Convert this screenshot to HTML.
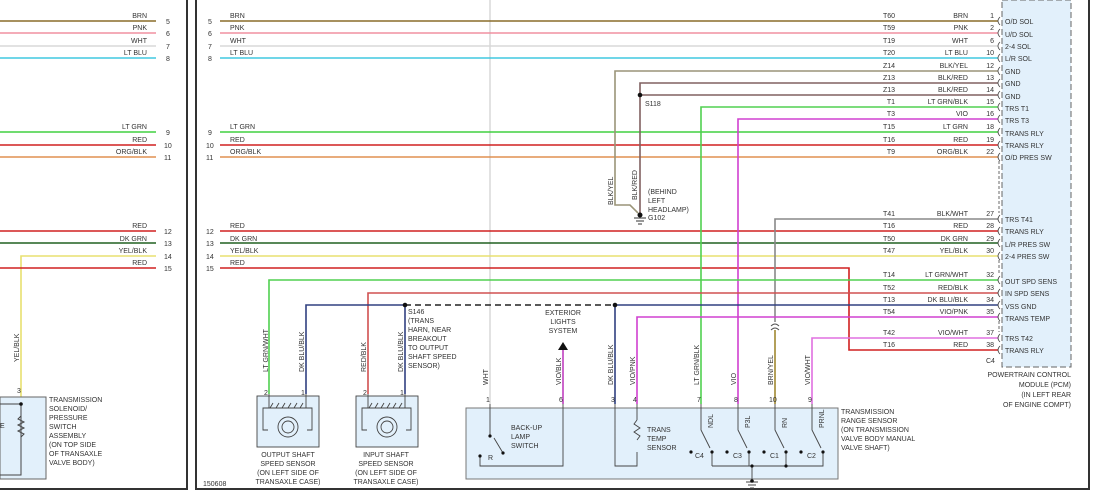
<!DOCTYPE html>
<html><head><meta charset="utf-8"><style>
body{margin:0;background:#fff;}
svg{display:block;font-family:"Liberation Sans",sans-serif;}
text{font-size:7px;fill:#333;}
.r{text-anchor:end;}
.m{text-anchor:middle;}
</style></head><body>
<svg width="1093" height="494" viewBox="0 0 1093 494" xmlns="http://www.w3.org/2000/svg">
<rect width="1093" height="494" fill="#fff"/>
<!-- frames -->
<path d="M187 0V489H0" stroke="#333" stroke-width="2" fill="none"/>
<path d="M196 0V489H1089V0" stroke="#333" stroke-width="2" fill="none"/>
<!-- PCM box -->
<rect x="1002" y="0" width="69" height="367" fill="#e2f0fb" stroke="#666" stroke-width="1" stroke-dasharray="6,3"/>
<!-- WHT vertical -->
<line x1="490" y1="0" x2="490" y2="404" stroke="#d8d8d8" stroke-width="1.5"/>

<g fill="none" stroke-width="1.6">
<!-- left panel -->
<line x1="0" y1="21" x2="156" y2="21" stroke="#8a6d2a"/>
<line x1="0" y1="33" x2="156" y2="33" stroke="#f090a0"/>
<line x1="0" y1="46" x2="156" y2="46" stroke="#d8d8d8"/>
<line x1="0" y1="58" x2="156" y2="58" stroke="#40c8e0"/>
<line x1="0" y1="132" x2="156" y2="132" stroke="#40d040"/>
<line x1="0" y1="145" x2="156" y2="145" stroke="#d02020"/>
<line x1="0" y1="157" x2="156" y2="157" stroke="#e09050"/>
<line x1="0" y1="231" x2="156" y2="231" stroke="#d02020"/>
<line x1="0" y1="243" x2="156" y2="243" stroke="#206020"/>
<path d="M156 256H21V397" stroke="#e8e070"/>
<line x1="0" y1="268" x2="156" y2="268" stroke="#d02020"/>
<!-- right panel through wires -->
<line x1="220" y1="21" x2="998" y2="21" stroke="#8a6d2a"/>
<line x1="220" y1="33" x2="998" y2="33" stroke="#f090a0"/>
<line x1="220" y1="46" x2="998" y2="46" stroke="#d8d8d8"/>
<line x1="220" y1="58" x2="998" y2="58" stroke="#40c8e0"/>
<line x1="220" y1="132" x2="998" y2="132" stroke="#40d040"/>
<line x1="220" y1="145" x2="998" y2="145" stroke="#d02020"/>
<line x1="220" y1="157" x2="998" y2="157" stroke="#e09050"/>
<line x1="220" y1="231" x2="998" y2="231" stroke="#d02020"/>
<line x1="220" y1="243" x2="998" y2="243" stroke="#206020"/>
<line x1="220" y1="256" x2="998" y2="256" stroke="#e8e070"/>
<path d="M220 268H849V350H998" stroke="#d02020"/>
<!-- grounds -->
<path d="M998 71H615V205H630L638 213" stroke="#9a9478"/>
<path d="M998 83H640V213" stroke="#806060"/>
<line x1="640" y1="95" x2="998" y2="95" stroke="#806060"/>
<!-- TRS wires -->
<path d="M998 107H701V404" stroke="#50d050"/>
<path d="M998 119H738V404" stroke="#d040d0"/>
<path d="M998 219H775V322" stroke="#888"/>
<path d="M775 330V404" stroke="#a08830"/>
<path d="M998 280H269V394" stroke="#50d050"/>
<path d="M998 293H368V394" stroke="#d05050"/>
<path d="M998 305H615V404" stroke="#304080"/>
<path d="M405 305H306V394" stroke="#304080"/>
<path d="M405 305V394" stroke="#304080"/>
<path d="M998 317H637V404" stroke="#d040d0"/>
<path d="M998 338H812V404" stroke="#e070e0"/>
<path d="M563 350V404" stroke="#c040c0"/>
</g>
<path d="M405 305H615" stroke="#222" stroke-width="1.5" stroke-dasharray="6,4"/>
<circle cx="640" cy="95" r="2.3" fill="#111"/>
<circle cx="405" cy="305" r="2.3" fill="#111"/>
<circle cx="615" cy="305" r="2.3" fill="#111"/>
<path d="M558 350L563 342L568 350Z" fill="#111"/>
<path d="M771 326Q775 322 779 326M771 330Q775 326 779 330" stroke="#555" fill="none"/>
<!-- G102 -->
<circle cx="640" cy="215" r="2.5" fill="#111"/>
<path d="M634 218H646M636 221H644M638 224H642" stroke="#333"/>
<!-- connector marks at PCM -->
<g stroke="#444" fill="none" stroke-width="0.8">
<path d="M1000 17Q996 21 1000 25M1000 29Q996 33 1000 37M1000 42Q996 46 1000 50M1000 54Q996 58 1000 62M1000 67Q996 71 1000 75M1000 79Q996 83 1000 87M1000 91Q996 95 1000 99M1000 103Q996 107 1000 111M1000 115Q996 119 1000 123M1000 128Q996 132 1000 136M1000 141Q996 145 1000 149M1000 153Q996 157 1000 161M1000 215Q996 219 1000 223M1000 227Q996 231 1000 235M1000 239Q996 243 1000 247M1000 252Q996 256 1000 260M1000 276Q996 280 1000 284M1000 289Q996 293 1000 297M1000 301Q996 305 1000 309M1000 313Q996 317 1000 321M1000 334Q996 338 1000 342M1000 346Q996 350 1000 354"/>
<path d="M999 161V213M999 260V274M999 321V332" stroke-dasharray="3,2"/>
</g>

<!-- left panel labels -->
<text x="147" y="18" class="r">BRN</text><text x="166" y="24">5</text>
<text x="147" y="30" class="r">PNK</text><text x="166" y="36">6</text>
<text x="147" y="43" class="r">WHT</text><text x="166" y="49">7</text>
<text x="147" y="55" class="r">LT BLU</text><text x="166" y="61">8</text>
<text x="147" y="129" class="r">LT GRN</text><text x="166" y="135">9</text>
<text x="147" y="142" class="r">RED</text><text x="164" y="148">10</text>
<text x="147" y="154" class="r">ORG/BLK</text><text x="164" y="160">11</text>
<text x="147" y="228" class="r">RED</text><text x="164" y="234">12</text>
<text x="147" y="241" class="r">DK GRN</text><text x="164" y="246">13</text>
<text x="147" y="253" class="r">YEL/BLK</text><text x="164" y="259">14</text>
<text x="147" y="265" class="r">RED</text><text x="164" y="271">15</text>
<text transform="translate(19,362) rotate(-90)">YEL/BLK</text>
<text x="17" y="393">3</text>
<rect x="0" y="397" width="46" height="82" fill="#e2f0fb" stroke="#666"/>
<path d="M0 404H21V475H0" stroke="#444" fill="none"/>
<circle cx="21" cy="404" r="1.8" fill="#111"/>
<path d="M21 416l-3 3 6 3-6 3 6 3-6 3 6 3-3 3" stroke="#444" fill="none"/>
<text x="0" y="428">E</text>
<text x="49" y="402">TRANSMISSION</text><text x="49" y="411">SOLENOID/</text><text x="49" y="420">PRESSURE</text><text x="49" y="429">SWITCH</text><text x="49" y="438">ASSEMBLY</text><text x="49" y="447">(ON TOP SIDE</text><text x="49" y="456">OF TRANSAXLE</text><text x="49" y="465">VALVE BODY)</text>

<!-- right panel left labels -->
<text x="208" y="24">5</text><text x="230" y="18">BRN</text>
<text x="208" y="36">6</text><text x="230" y="30">PNK</text>
<text x="208" y="49">7</text><text x="230" y="43">WHT</text>
<text x="208" y="61">8</text><text x="230" y="55">LT BLU</text>
<text x="208" y="135">9</text><text x="230" y="129">LT GRN</text>
<text x="206" y="148">10</text><text x="230" y="142">RED</text>
<text x="206" y="160">11</text><text x="230" y="154">ORG/BLK</text>
<text x="206" y="234">12</text><text x="230" y="228">RED</text>
<text x="206" y="246">13</text><text x="230" y="241">DK GRN</text>
<text x="206" y="259">14</text><text x="230" y="253">YEL/BLK</text>
<text x="206" y="271">15</text><text x="230" y="265">RED</text>

<!-- PCM rows -->
<g>
<text x="895" y="18" class="r">T60</text><text x="968" y="18" class="r">BRN</text><text x="994" y="18" class="r">1</text><text x="1005" y="24">O/D SOL</text>
<text x="895" y="30" class="r">T59</text><text x="968" y="30" class="r">PNK</text><text x="994" y="30" class="r">2</text><text x="1005" y="37">U/D SOL</text>
<text x="895" y="43" class="r">T19</text><text x="968" y="43" class="r">WHT</text><text x="994" y="43" class="r">6</text><text x="1005" y="49">2-4 SOL</text>
<text x="895" y="55" class="r">T20</text><text x="968" y="55" class="r">LT BLU</text><text x="994" y="55" class="r">10</text><text x="1005" y="61">L/R SOL</text>
<text x="895" y="68" class="r">Z14</text><text x="968" y="68" class="r">BLK/YEL</text><text x="994" y="68" class="r">12</text><text x="1005" y="74">GND</text>
<text x="895" y="80" class="r">Z13</text><text x="968" y="80" class="r">BLK/RED</text><text x="994" y="80" class="r">13</text><text x="1005" y="86">GND</text>
<text x="895" y="92" class="r">Z13</text><text x="968" y="92" class="r">BLK/RED</text><text x="994" y="92" class="r">14</text><text x="1005" y="99">GND</text>
<text x="895" y="104" class="r">T1</text><text x="968" y="104" class="r">LT GRN/BLK</text><text x="994" y="104" class="r">15</text><text x="1005" y="111">TRS T1</text>
<text x="895" y="116" class="r">T3</text><text x="968" y="116" class="r">VIO</text><text x="994" y="116" class="r">16</text><text x="1005" y="123">TRS T3</text>
<text x="895" y="129" class="r">T15</text><text x="968" y="129" class="r">LT GRN</text><text x="994" y="129" class="r">18</text><text x="1005" y="136">TRANS RLY</text>
<text x="895" y="142" class="r">T16</text><text x="968" y="142" class="r">RED</text><text x="994" y="142" class="r">19</text><text x="1005" y="148">TRANS RLY</text>
<text x="895" y="154" class="r">T9</text><text x="968" y="154" class="r">ORG/BLK</text><text x="994" y="154" class="r">22</text><text x="1005" y="160">O/D PRES SW</text>
<text x="895" y="216" class="r">T41</text><text x="968" y="216" class="r">BLK/WHT</text><text x="994" y="216" class="r">27</text><text x="1005" y="222">TRS T41</text>
<text x="895" y="228" class="r">T16</text><text x="968" y="228" class="r">RED</text><text x="994" y="228" class="r">28</text><text x="1005" y="234">TRANS RLY</text>
<text x="895" y="241" class="r">T50</text><text x="968" y="241" class="r">DK GRN</text><text x="994" y="241" class="r">29</text><text x="1005" y="247">L/R PRES SW</text>
<text x="895" y="253" class="r">T47</text><text x="968" y="253" class="r">YEL/BLK</text><text x="994" y="253" class="r">30</text><text x="1005" y="259">2-4 PRES SW</text>
<text x="895" y="277" class="r">T14</text><text x="968" y="277" class="r">LT GRN/WHT</text><text x="994" y="277" class="r">32</text><text x="1005" y="284">OUT SPD SENS</text>
<text x="895" y="290" class="r">T52</text><text x="968" y="290" class="r">RED/BLK</text><text x="994" y="290" class="r">33</text><text x="1005" y="296">IN SPD SENS</text>
<text x="895" y="302" class="r">T13</text><text x="968" y="302" class="r">DK BLU/BLK</text><text x="994" y="302" class="r">34</text><text x="1005" y="309">VSS GND</text>
<text x="895" y="314" class="r">T54</text><text x="968" y="314" class="r">VIO/PNK</text><text x="994" y="314" class="r">35</text><text x="1005" y="321">TRANS TEMP</text>
<text x="895" y="335" class="r">T42</text><text x="968" y="335" class="r">VIO/WHT</text><text x="994" y="335" class="r">37</text><text x="1005" y="341">TRS T42</text>
<text x="895" y="347" class="r">T16</text><text x="968" y="347" class="r">RED</text><text x="994" y="347" class="r">38</text><text x="1005" y="353">TRANS RLY</text>
<text x="986" y="363">C4</text>
<text x="1071" y="377" class="r">POWERTRAIN CONTROL</text><text x="1071" y="387" class="r">MODULE (PCM)</text><text x="1071" y="397" class="r">(IN LEFT REAR</text><text x="1071" y="407" class="r">OF ENGINE COMPT)</text>
</g>

<!-- S118 / G102 -->
<text x="645" y="106">S118</text>
<text transform="translate(613,205) rotate(-90)">BLK/YEL</text>
<text transform="translate(637,200) rotate(-90)">BLK/RED</text>
<text x="648" y="194">(BEHIND</text><text x="648" y="203">LEFT</text><text x="648" y="212">HEADLAMP)</text><text x="648" y="220">G102</text>

<!-- S146 -->
<text x="408" y="314">S146</text><text x="408" y="323">(TRANS</text><text x="408" y="332">HARN, NEAR</text><text x="408" y="341">BREAKOUT</text><text x="408" y="350">TO OUTPUT</text><text x="408" y="359">SHAFT SPEED</text><text x="408" y="368">SENSOR)</text>
<text x="563" y="315" class="m">EXTERIOR</text><text x="563" y="324" class="m">LIGHTS</text><text x="563" y="333" class="m">SYSTEM</text>

<!-- vertical wire labels -->
<text transform="translate(268,372) rotate(-90)">LT GRN/WHT</text>
<text transform="translate(304,372) rotate(-90)">DK BLU/BLK</text>
<text transform="translate(366,372) rotate(-90)">RED/BLK</text>
<text transform="translate(403,372) rotate(-90)">DK BLU/BLK</text>
<text transform="translate(488,385) rotate(-90)">WHT</text>
<text transform="translate(561,385) rotate(-90)">VIO/BLK</text>
<text transform="translate(613,385) rotate(-90)">DK BLU/BLK</text>
<text transform="translate(635,385) rotate(-90)">VIO/PNK</text>
<text transform="translate(699,385) rotate(-90)">LT GRN/BLK</text>
<text transform="translate(736,385) rotate(-90)">VIO</text>
<text transform="translate(773,385) rotate(-90)">BRN/YEL</text>
<text transform="translate(810,385) rotate(-90)">VIO/WHT</text>

<!-- speed sensors -->
<g stroke="#444" fill="none" stroke-width="0.9">
<rect x="257" y="396" width="62" height="51" fill="#e2f0fb"/>
<rect x="356" y="396" width="62" height="51" fill="#e2f0fb"/>
<path d="M269 394V408H263V430H268M306 394V408H312V430H307M266 408H309M270 408l3-5M276 408l3-5M282 408l3-5M288 408l3-5M294 408l3-5M300 408l3-5"/>
<circle cx="288" cy="427" r="10"/><circle cx="288" cy="427" r="6"/>
<path d="M368 394V408H362V430H367M405 394V408H411V430H406M365 408H408M369 408l3-5M375 408l3-5M381 408l3-5M387 408l3-5M393 408l3-5M399 408l3-5"/>
<circle cx="387" cy="427" r="10"/><circle cx="387" cy="427" r="6"/>
</g>
<text x="264" y="395" font-size="6">2</text><text x="301" y="395" font-size="6">1</text>
<text x="363" y="395" font-size="6">2</text><text x="400" y="395" font-size="6">1</text>
<text x="288" y="457" class="m">OUTPUT SHAFT</text><text x="288" y="466" class="m">SPEED SENSOR</text><text x="288" y="475" class="m">(ON LEFT SIDE OF</text><text x="288" y="484" class="m">TRANSAXLE CASE)</text>
<text x="386" y="457" class="m">INPUT SHAFT</text><text x="386" y="466" class="m">SPEED SENSOR</text><text x="386" y="475" class="m">(ON LEFT SIDE OF</text><text x="386" y="484" class="m">TRANSAXLE CASE)</text>
<text x="203" y="486">150608</text>

<!-- TRS box -->
<rect x="466" y="408" width="372" height="71" fill="#e2f0fb" stroke="#777"/>
<g stroke="#444" fill="none" stroke-width="0.9">
<path d="M490 404V436M494 438L503 453M480 456V466H563V404"/>
<path d="M615 404V466H637V452M637 404V420M637 420l-3 4 6 4-6 4 6 4-3 4"/>
<path d="M701 404V430L710 448M738 404V430L747 448M775 404V430L784 448M812 404V430L821 448"/>
<path d="M712 452V466M749 452V466H712M786 452V466H749M823 452V466H786M752 466V482M746 482H758M748 485H756M750 488H754"/>
</g>
<g fill="#111">
<circle cx="490" cy="436" r="1.6"/><circle cx="503" cy="453" r="1.6"/><circle cx="480" cy="456" r="1.6"/>
<circle cx="691" cy="452" r="1.6"/><circle cx="712" cy="452" r="1.6"/><circle cx="727" cy="452" r="1.6"/><circle cx="749" cy="452" r="1.6"/>
<circle cx="764" cy="452" r="1.6"/><circle cx="786" cy="452" r="1.6"/><circle cx="801" cy="452" r="1.6"/><circle cx="823" cy="452" r="1.6"/>
<circle cx="752" cy="466" r="1.6"/><circle cx="786" cy="466" r="1.6"/><circle cx="752" cy="481" r="1.8"/>
</g>
<g font-size="6">
<text x="486" y="402">1</text><text x="559" y="402">6</text><text x="611" y="402">3</text><text x="633" y="402">4</text>
<text x="697" y="402">7</text><text x="734" y="402">8</text><text x="769" y="402">10</text><text x="808" y="402">9</text>
</g>
<text x="511" y="430">BACK-UP</text><text x="511" y="439">LAMP</text><text x="511" y="448">SWITCH</text><text x="488" y="460">R</text>
<text x="647" y="432">TRANS</text><text x="647" y="441">TEMP</text><text x="647" y="450">SENSOR</text>
<text x="695" y="458">C4</text><text x="733" y="458">C3</text><text x="770" y="458">C1</text><text x="807" y="458">C2</text>
<text transform="translate(713,428) rotate(-90)">NDL</text><text transform="translate(750,428) rotate(-90)">P3L</text><text transform="translate(787,428) rotate(-90)">RN</text><text transform="translate(824,428) rotate(-90)">PRNL</text>
<text x="841" y="414">TRANSMISSION</text><text x="841" y="423">RANGE SENSOR</text><text x="841" y="432">(ON TRANSMISSION</text><text x="841" y="441">VALVE BODY MANUAL</text><text x="841" y="450">VALVE SHAFT)</text>
</svg>
</body></html>
